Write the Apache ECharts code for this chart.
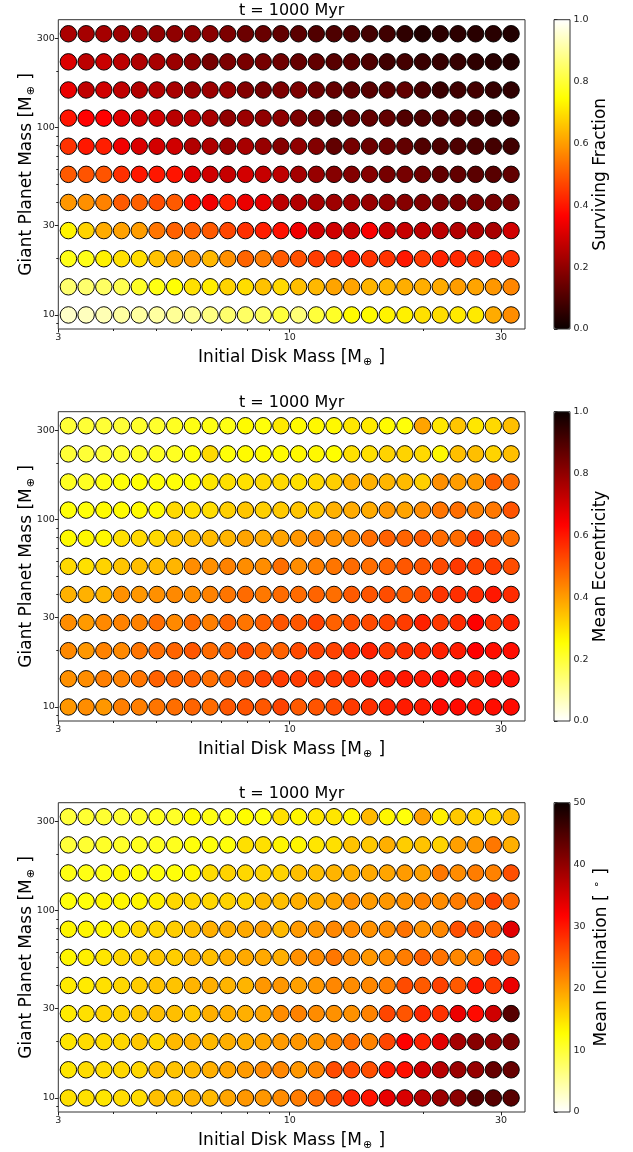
<!DOCTYPE html>
<html><head><meta charset="utf-8">
<script src="https://cdn.jsdelivr.net/npm/echarts@6/dist/echarts.min.js"></script>
<style>html,body{margin:0;padding:0;background:#fff}#c{width:633px;height:1152px}</style>
</head><body><div id="c"></div>
<script>
// ---------- data ----------
const diskMass = [3.162, 3.467, 3.802, 4.169, 4.571, 5.012, 5.495, 6.026, 6.607, 7.244, 7.943, 8.710, 9.550,
  10.47, 11.48, 12.59, 13.80, 15.14, 16.60, 18.20, 19.95, 21.88, 23.99, 26.30, 28.84, 31.62];
// rows listed top (largest planet mass) to bottom
const planetMass = [316.2, 223.9, 158.5, 112.2, 79.43, 56.23, 39.81, 28.18, 19.95, 14.13, 10.0];

const survivingFraction = [
  [0.24,0.23,0.23,0.22,0.215,0.2,0.2,0.195,0.19,0.17,0.145,0.14,0.13,0.12,0.105,0.1,0.1,0.085,0.08,0.055,0.035,0.05,0.05,0.045,0.045,0.035],
  [0.315,0.265,0.285,0.265,0.245,0.235,0.215,0.195,0.16,0.17,0.165,0.16,0.15,0.135,0.13,0.115,0.115,0.1,0.08,0.085,0.07,0.065,0.065,0.055,0.045,0.035],
  [0.335,0.27,0.295,0.27,0.25,0.25,0.235,0.21,0.215,0.21,0.18,0.16,0.17,0.17,0.145,0.135,0.12,0.115,0.115,0.13,0.095,0.07,0.08,0.085,0.065,0.055],
  [0.395,0.365,0.365,0.32,0.295,0.295,0.26,0.26,0.235,0.2,0.215,0.2,0.195,0.17,0.15,0.12,0.135,0.13,0.13,0.105,0.1,0.095,0.095,0.085,0.065,0.07],
  [0.44,0.4,0.41,0.345,0.31,0.3,0.295,0.25,0.245,0.215,0.235,0.21,0.185,0.2,0.18,0.13,0.16,0.145,0.145,0.13,0.105,0.1,0.1,0.095,0.085,0.08],
  [0.5,0.49,0.49,0.435,0.4,0.4,0.395,0.32,0.295,0.28,0.3,0.28,0.27,0.23,0.21,0.185,0.18,0.185,0.16,0.16,0.15,0.13,0.13,0.12,0.115,0.13],
  [0.59,0.58,0.56,0.5,0.51,0.48,0.5,0.395,0.345,0.41,0.335,0.33,0.265,0.25,0.23,0.22,0.22,0.21,0.2,0.185,0.18,0.17,0.165,0.165,0.16,0.16],
  [0.73,0.68,0.62,0.605,0.6,0.54,0.51,0.51,0.5,0.47,0.435,0.41,0.39,0.345,0.3,0.295,0.28,0.36,0.28,0.28,0.265,0.265,0.25,0.245,0.235,0.295],
  [0.77,0.77,0.725,0.7,0.695,0.655,0.61,0.59,0.64,0.58,0.515,0.55,0.5,0.485,0.455,0.45,0.415,0.44,0.44,0.4,0.45,0.415,0.425,0.435,0.425,0.435],
  [0.855,0.855,0.845,0.825,0.785,0.765,0.75,0.7,0.72,0.68,0.695,0.655,0.69,0.65,0.64,0.61,0.61,0.635,0.635,0.625,0.625,0.62,0.6,0.61,0.59,0.565],
  [0.945,0.935,0.925,0.905,0.905,0.905,0.895,0.89,0.875,0.855,0.845,0.835,0.805,0.865,0.805,0.785,0.74,0.74,0.73,0.725,0.7,0.695,0.715,0.715,0.62,0.575]
];

const meanEccentricity = [
  [0.2,0.2,0.2,0.2,0.21,0.21,0.22,0.235,0.235,0.235,0.26,0.245,0.285,0.26,0.265,0.265,0.29,0.285,0.26,0.245,0.39,0.29,0.34,0.29,0.31,0.35],
  [0.2,0.2,0.2,0.21,0.22,0.22,0.22,0.245,0.31,0.245,0.26,0.26,0.26,0.265,0.265,0.255,0.3,0.3,0.32,0.32,0.31,0.265,0.35,0.35,0.32,0.35],
  [0.22,0.22,0.235,0.245,0.25,0.245,0.245,0.26,0.29,0.3,0.3,0.31,0.31,0.3,0.31,0.325,0.37,0.37,0.365,0.355,0.325,0.42,0.4,0.405,0.49,0.47],
  [0.245,0.245,0.26,0.26,0.26,0.26,0.31,0.3,0.305,0.325,0.34,0.325,0.335,0.34,0.335,0.37,0.38,0.38,0.41,0.39,0.425,0.46,0.47,0.44,0.455,0.51],
  [0.26,0.265,0.265,0.3,0.31,0.31,0.34,0.35,0.355,0.365,0.39,0.38,0.39,0.41,0.43,0.42,0.43,0.47,0.49,0.485,0.5,0.475,0.475,0.545,0.505,0.47],
  [0.31,0.3,0.32,0.34,0.35,0.355,0.365,0.425,0.42,0.44,0.425,0.425,0.47,0.425,0.445,0.46,0.475,0.47,0.485,0.505,0.51,0.525,0.55,0.535,0.545,0.52],
  [0.37,0.37,0.365,0.42,0.41,0.42,0.43,0.425,0.44,0.46,0.475,0.455,0.475,0.475,0.485,0.47,0.5,0.51,0.52,0.5,0.525,0.555,0.565,0.57,0.6,0.57],
  [0.425,0.405,0.43,0.44,0.44,0.47,0.43,0.475,0.445,0.485,0.46,0.49,0.51,0.505,0.535,0.49,0.52,0.525,0.535,0.545,0.585,0.55,0.57,0.635,0.555,0.585],
  [0.43,0.41,0.44,0.43,0.46,0.47,0.485,0.505,0.475,0.485,0.52,0.485,0.49,0.525,0.535,0.535,0.565,0.585,0.55,0.565,0.57,0.585,0.595,0.635,0.615,0.615],
  [0.42,0.425,0.445,0.44,0.46,0.49,0.485,0.49,0.47,0.49,0.51,0.535,0.545,0.545,0.55,0.55,0.565,0.59,0.595,0.6,0.595,0.62,0.62,0.585,0.615,0.615],
  [0.41,0.425,0.41,0.445,0.445,0.46,0.47,0.485,0.475,0.505,0.51,0.505,0.535,0.5,0.51,0.525,0.55,0.565,0.585,0.595,0.595,0.62,0.62,0.605,0.615,0.62]
];

const meanInclination = [
  [9.8,10.2,10.2,10.2,10.7,11.2,10.7,12.9,11.7,11.7,12.9,12.2,15,13.4,14.6,14.6,13.4,17.9,13.4,12.2,19.8,13.8,16.8,16,15.7,17.9],
  [9.8,10.2,10.7,10.7,11.2,11.2,11.2,12.2,12.2,12.2,15,15,13.4,13.4,14.6,15,17.2,16.8,18.7,16.4,17.2,16,19.8,20.5,22.8,18.7],
  [11.7,11.7,11.7,13.4,12.2,12.2,12.2,13.4,15.3,16,15.7,16,16,17.5,17.5,18.3,18.7,19.1,19.4,20.2,19.8,22.8,21.3,22.4,22,25.8],
  [12.2,12.2,13.4,13.4,13.4,13.8,15.7,15.7,15.7,16,16,17.9,17.5,18.7,18.7,19.4,20.9,20.2,20.5,20.9,22,21.3,22.4,22.8,26.5,23.9],
  [13.4,13.4,13.4,14.2,15.7,15.7,16.4,17.5,18.7,18.7,19.1,19.8,17.9,20.2,20.5,21.7,21.3,20.9,21.3,23.2,20.9,21.7,25.8,25.4,24.7,33.9],
  [13.4,13.8,14.6,15.7,16,16.8,16.4,17.9,17.5,18.7,19.1,19.1,18.7,20.9,21.3,22.8,21.3,20.5,21.3,22.4,24.7,23.2,21.7,22,27.6,24.7],
  [14.2,14.2,15,15.7,16.4,17.2,17.2,18.3,18.7,18.3,18.3,20.5,20.5,19.8,20.5,21.7,21.3,21.7,22.4,26.2,25,26.9,25,29.9,27.3,33.2],
  [14.2,15,16,16,16.8,17.5,17.5,16.8,18.7,18.7,18.7,19.4,21.3,22,21.3,20.9,20.9,22,26.5,25.4,28.8,28,33.2,31,35.3,44.3],
  [14.6,15.3,15.3,15.7,16.8,15.7,17.9,18.3,17.9,18.7,18.7,19.4,20.2,20.5,20.5,21.7,23.5,22,26.5,31.75,29.1,33.9,38.5,40.7,39.6,41.8],
  [14.6,15.3,15.3,15.7,15.7,17.5,17.2,17.9,18.7,19.4,20.2,21.3,21.7,20.5,21.7,26.2,26.2,25.8,29.9,30.6,35,37.1,39.3,39.6,43.2,43.2],
  [15,15,14.6,15.3,15.3,17.5,17.2,18.3,17.9,19.4,20.5,20.5,21.3,22.4,23.5,26.2,29.1,30.3,33.5,34.6,37.1,39.3,40.3,44.3,44.3,44.3]
];

const xMajorTicks = [3, 10, 30];
const xMinorTicks = [4, 5, 6, 7, 8, 9, 20];
const yMajorTicks = [10, 30, 100, 300];
const yMinorTicks = [9, 20, 40, 50, 60, 70, 80, 90, 200];
const panelTitle = 't = 1000 Myr';
const cbLabels = ['Surviving Fraction', 'Mean Eccentricity', 'Mean Inclination [ {sup|∘} ]'];

// ---------- styling / layout ----------
const FONT = 'DejaVu Sans';
const GL = 58.3, GW = 466.7, GH = 309.3;
const tops = [19.7, 411.7, 802.7];
const CBL = 554, CBW = 16;

function hot(t) {
  const a = 0.365079, b = 0.746032;
  const r = t < a ? 0.0416 + (1 - 0.0416) * t / a : 1;
  const g = t < a ? 0 : (t < b ? (t - a) / (b - a) : 1);
  const bl = t < b ? 0 : (t - b) / (1 - b);
  return 'rgb(' + Math.round(r * 255) + ',' + Math.round(g * 255) + ',' + Math.round(bl * 255) + ')';
}
const hotColors = [];
for (let i = 0; i <= 200; i++) hotColors.push(hot(i / 200));
const hotRColors = hotColors.slice().reverse();

const panels = [
  { vals: survivingFraction, min: 0, max: 1, colors: hotColors, dec: 1 },
  { vals: meanEccentricity, min: 0, max: 1, colors: hotRColors, dec: 1 },
  { vals: meanInclination, min: 0, max: 50, colors: hotRColors, dec: 0 }
];

const nameRich = { s: { fontFamily: FONT, fontSize: 11, padding: [9, 1, 0, 1], color: '#000' } };

const grid = [], xAxis = [], yAxis = [], series = [], visualMap = [], graphic = [];

panels.forEach((p, i) => {
  grid.push({ left: GL, top: tops[i], width: GW, height: GH, show: true, borderColor: '#333', borderWidth: 1, backgroundColor: 'transparent' });
});
panels.forEach((p, i) => {
  grid.push({ left: CBL, top: tops[i], width: CBW, height: GH, show: true, borderColor: '#333', borderWidth: 1, backgroundColor: 'transparent', z: 10 });
});

const tickLabelStyle = { fontFamily: FONT, fontSize: 9.5, color: '#222' };

panels.forEach((p, i) => {
  xAxis.push({
    type: 'log', logBase: 10, gridIndex: i, min: 3, max: 34, position: 'bottom',
    axisLine: { show: false }, splitLine: { show: false },
    axisTick: { show: true, customValues: xMajorTicks, length: 3.5, lineStyle: { color: '#222', width: 1 } },
    axisLabel: Object.assign({ show: true, customValues: xMajorTicks, margin: 3.5, formatter: v => String(Math.round(v)) }, tickLabelStyle),
    name: 'Initial Disk Mass [M{s|⊕} ]', nameLocation: 'middle', nameGap: 19,
    nameTextStyle: { fontFamily: FONT, fontSize: 17, color: '#000', rich: nameRich }
  });
});
panels.forEach((p, i) => {
  xAxis.push({
    type: 'log', logBase: 10, gridIndex: i, min: 3, max: 34, position: 'bottom',
    axisLine: { show: false }, splitLine: { show: false },
    axisTick: { show: true, customValues: xMinorTicks, length: 2, lineStyle: { color: '#222', width: 1 } },
    axisLabel: { show: false }
  });
});
panels.forEach((p, i) => {
  xAxis.push({ type: 'value', gridIndex: 3 + i, min: 0, max: 1, show: false });
});

panels.forEach((p, i) => {
  yAxis.push({
    type: 'log', logBase: 10, gridIndex: i, min: 8.414, max: 375.8, position: 'left',
    axisLine: { show: false }, splitLine: { show: false },
    axisTick: { show: true, customValues: yMajorTicks, length: 3.5, lineStyle: { color: '#222', width: 1 } },
    axisLabel: Object.assign({ show: true, customValues: yMajorTicks, margin: 3.5, formatter: v => String(Math.round(v)) }, tickLabelStyle),
    name: 'Giant Planet Mass [M{s|⊕} ]', nameLocation: 'middle', nameGap: 22, nameRotate: 90,
    nameMoveOverlap: false,
    nameTextStyle: { fontFamily: FONT, fontSize: 17, color: '#000', rich: nameRich }
  });
});
panels.forEach((p, i) => {
  yAxis.push({
    type: 'log', logBase: 10, gridIndex: i, min: 8.414, max: 375.8, position: 'left',
    axisLine: { show: false }, splitLine: { show: false },
    axisTick: { show: true, customValues: yMinorTicks, length: 2, lineStyle: { color: '#222', width: 1 } },
    axisLabel: { show: false }
  });
});
panels.forEach((p, i) => {
  yAxis.push({
    type: 'value', gridIndex: 3 + i, min: p.min, max: p.max, position: 'right',
    interval: p.max / 5,
    axisLine: { show: false }, splitLine: { show: false },
    axisTick: { show: true, length: 3.5, lineStyle: { color: '#222', width: 1 } },
    axisLabel: Object.assign({ show: true, margin: 3.5, formatter: v => v.toFixed(p.dec) }, tickLabelStyle),
    name: cbLabels[i], nameLocation: 'middle', nameGap: 22, nameRotate: 90,
    nameTextStyle: { fontFamily: FONT, fontSize: 17, color: '#000',
      rich: { sup: { fontFamily: FONT, fontSize: 11, padding: [0, 1, 9, 1], color: '#000' } } }
  });
});

panels.forEach((p, i) => {
  const data = [];
  p.vals.forEach((row, r) => row.forEach((v, c) => data.push([diskMass[c], planetMass[r], v])));
  series.push({
    type: 'scatter', xAxisIndex: i, yAxisIndex: i, data: data,
    symbol: 'circle', symbolSize: 16.5,
    itemStyle: { borderColor: '#000', borderWidth: 0.95, opacity: 1 },
    emphasis: { disabled: true }, animation: false, z: 5
  });
  visualMap.push({
    type: 'continuous', seriesIndex: i, dimension: 2, min: p.min, max: p.max,
    inRange: { color: p.colors }, show: true, calculable: false, hoverLink: false,
    left: CBL, top: tops[i], itemWidth: CBW, itemHeight: GH, padding: 0, text: null
  });
  graphic.push({
    type: 'text', x: GL + GW / 2, y: tops[i] - 9,
    style: { text: panelTitle, fontFamily: FONT, fontSize: 16, fill: '#000', textAlign: 'center', textVerticalAlign: 'middle' }
  });
});

const chart = echarts.init(document.getElementById('c'), null, { renderer: 'canvas' });
chart.setOption({
  animation: false, backgroundColor: '#fff',
  grid, xAxis, yAxis, series, visualMap, graphic
});
</script></body></html>
